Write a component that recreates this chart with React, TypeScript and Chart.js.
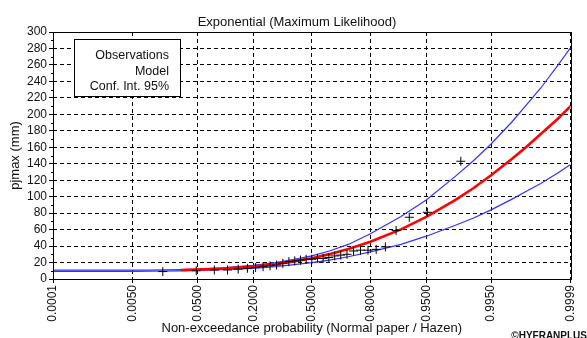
import React, { useEffect, useRef } from 'react';
import { Chart, registerables } from 'chart.js';

Chart.register(...registerables);

const chartTitle = 'Exponential (Maximum Likelihood)';
const xTitle = 'Non-exceedance probability (Normal paper / Hazen)';
const yTitle = 'pjmax (mm)';
const credit = '©HYFRANPLUS';
const legendLabels = ['Observations', 'Model', 'Conf. Int. 95%'];

const tickProbs = [0.0001, 0.005, 0.05, 0.2, 0.5, 0.8, 0.95, 0.995, 0.9999];
const tickLabels = ['0.0001', '0.0050', '0.0500', '0.2000', '0.5000', '0.8000', '0.9500', '0.9950', '0.9999'];
const yTicks = [0, 300, 20];

const curveProbs = [0.0001, 0.001, 0.005, 0.01, 0.03, 0.05, 0.1, 0.2, 0.3, 0.4, 0.5, 0.6, 0.7, 0.8, 0.9, 0.95, 0.98, 0.99, 0.995, 0.998, 0.999, 0.9995, 0.9998, 0.9999];
const upperValues = [10.8, 10.8, 10.8, 10.9, 11.5, 12, 13.5, 16.5, 20, 24, 28, 34, 42, 55, 76, 96, 124, 144, 164, 191, 212, 232, 260, 281];
const lowerValues = [9.2, 9.2, 9.2, 9.4, 9.8, 10.3, 11.3, 13, 15, 17.5, 20, 23, 27, 33, 42, 52, 65, 74, 84, 97, 107, 116, 129, 139];

const modelProbs = [0.03, 0.05, 0.1, 0.2, 0.3, 0.4, 0.5, 0.6, 0.7, 0.8, 0.9, 0.95, 0.98, 0.99, 0.995, 0.998, 0.999, 0.9995, 0.9998, 0.9999];
const modelValues = [11, 11.4, 12.6, 15.1, 18, 21.4, 25.3, 30.2, 36.4, 45.2, 60.3, 75.5, 95.5, 110.5, 126, 146, 161, 176, 195, 210];

// observations sorted ascending, plotted with Hazen positions (i - 0.5) / n
const obsValues = [9, 10, 11, 11, 12, 13, 14, 15, 16, 17, 19, 21, 22, 23, 24, 24, 25, 25, 26, 28, 29, 30, 34, 35, 35, 36, 39, 59, 75, 81, 143];

function probit(p: number): number {
  const a = [-39.69683028665376, 220.9460984245205, -275.9285104469687, 138.357751867269, -30.66479806614716, 2.506628277459239];
  const b = [-54.47609879822406, 161.5858368580409, -155.6989798598866, 66.80131188771972, -13.28068155288572];
  const c = [-0.007784894002430293, -0.3223964580411365, -2.400758277161838, -2.549732539343734, 4.374664141464968, 2.938163982698783];
  const d = [0.007784695709041462, 0.3224671290700398, 2.445134137142996, 3.754408661907416];
  const pl = 0.02425;
  let q: number, r: number;
  if (p < pl) {
    q = Math.sqrt(-2 * Math.log(p));
    return (((((c[0] * q + c[1]) * q + c[2]) * q + c[3]) * q + c[4]) * q + c[5]) / ((((d[0] * q + d[1]) * q + d[2]) * q + d[3]) * q + 1);
  }
  if (p <= 1 - pl) {
    q = p - 0.5;
    r = q * q;
    return (((((a[0] * r + a[1]) * r + a[2]) * r + a[3]) * r + a[4]) * r + a[5]) * q / (((((b[0] * r + b[1]) * r + b[2]) * r + b[3]) * r + b[4]) * r + 1);
  }
  q = Math.sqrt(-2 * Math.log(1 - p));
  return -(((((c[0] * q + c[1]) * q + c[2]) * q + c[3]) * q + c[4]) * q + c[5]) / ((((d[0] * q + d[1]) * q + d[2]) * q + d[3]) * q + 1);
}

const FONT = "'Liberation Sans', Arial, sans-serif";

const decorPlugin = {
  id: 'decor',
  afterDraw(chart: any) {
    const { ctx, chartArea } = chart;
    const { left, right, top, bottom } = chartArea;
    ctx.save();
    ctx.strokeStyle = '#000';
    ctx.lineWidth = 1;
    ctx.setLineDash([]);
    ctx.strokeRect(Math.round(left) + 0.5, Math.round(top) + 0.5, Math.round(right - left), Math.round(bottom - top));
    const ys = chart.scales.y;
    ctx.beginPath();
    for (let v = 10; v < 300; v += 20) {
      const py = Math.round(ys.getPixelForValue(v)) + 0.5;
      ctx.moveTo(Math.round(left) - 2, py);
      ctx.lineTo(Math.round(left), py);
    }
    ctx.stroke();
    ctx.fillStyle = '#111';
    ctx.font = `13px ${FONT}`;
    ctx.textBaseline = 'middle';
    ctx.textAlign = 'center';
    ctx.fillText(chartTitle, 297, 22);
    ctx.fillText(xTitle, (left + right) / 2, 328);
    ctx.save();
    ctx.translate(15, (top + bottom) / 2);
    ctx.rotate(-Math.PI / 2);
    ctx.fillText(yTitle, 0, 0);
    ctx.restore();
    ctx.font = `bold 10px ${FONT}`;
    ctx.textAlign = 'right';
    ctx.textBaseline = 'alphabetic';
    ctx.fillText(credit, 587, 339);
    ctx.fillStyle = '#fff';
    ctx.fillRect(74, 39, 107, 58);
    ctx.strokeStyle = '#000';
    ctx.strokeRect(74.5, 39.5, 106, 57);
    ctx.fillStyle = '#111';
    ctx.font = `12.5px ${FONT}`;
    ctx.textAlign = 'right';
    ctx.textBaseline = 'middle';
    legendLabels.forEach((t, i) => ctx.fillText(t, 169, 56 + i * 15.5));
    ctx.restore();
  },
};

export default function App() {
  const ref = useRef<HTMLCanvasElement | null>(null);
  useEffect(() => {
    if (!ref.current) return;
    const xy = (probs: number[], vals: number[]) => probs.map((p, i) => ({ x: probit(p), y: vals[i] }));
    const n = obsValues.length;
    const obsPts = obsValues.map((v, i) => ({ x: probit((i + 0.5) / n), y: v }));
    const chart = new Chart(ref.current, {
      type: 'scatter',
      data: {
        datasets: [
          { label: 'Observations', data: obsPts, showLine: false, pointStyle: 'cross', pointRadius: 4.5, borderColor: '#000', backgroundColor: '#000', borderWidth: 1, order: 0 },
          { label: 'Model', data: xy(modelProbs, modelValues), showLine: true, borderColor: '#ff0000', borderWidth: 2.6, pointRadius: 0, order: 1 },
          { label: 'Upper', data: xy(curveProbs, upperValues), showLine: true, borderColor: '#3333ff', borderWidth: 1.2, pointRadius: 0, order: 2 },
          { label: 'Lower', data: xy(curveProbs, lowerValues), showLine: true, borderColor: '#3333ff', borderWidth: 1.2, pointRadius: 0, order: 2 },
        ],
      },
      options: {
        responsive: false,
        animation: false,
        events: [],
        layout: { padding: { top: 32, right: 5, left: 0, bottom: 0 } },
        plugins: { legend: { display: false }, tooltip: { enabled: false }, title: { display: false } },
        scales: {
          x: {
            type: 'linear',
            min: probit(tickProbs[0]),
            max: probit(tickProbs[tickProbs.length - 1]),
            afterBuildTicks: (s: any) => { s.ticks = tickProbs.map((p) => ({ value: probit(p) })); },
            afterFit: (s: any) => { s.height = 59; },
            ticks: {
              autoSkip: false,
              minRotation: 90,
              maxRotation: 90,
              padding: 2,
              color: '#111',
              font: { family: FONT, size: 12 },
              callback: (_v: any, i: number) => tickLabels[i],
            },
            grid: { color: '#000', lineWidth: 1, tickLength: 4, tickColor: '#000', tickBorderDash: [] },
            border: { display: false, dash: [4, 3] },
          },
          y: {
            type: 'linear',
            min: yTicks[0],
            max: yTicks[1],
            afterFit: (s: any) => { s.width = 53; },
            ticks: { stepSize: yTicks[2], autoSkip: false, padding: 2, color: '#111', font: { family: FONT, size: 12 } },
            grid: { color: '#000', lineWidth: 1, tickLength: 4, tickColor: '#000', tickBorderDash: [] },
            border: { display: false, dash: [4, 3] },
          },
        },
      },
      plugins: [decorPlugin],
    });
    return () => chart.destroy();
  }, []);
  return (
    <div style={{ position: 'absolute', left: 0, top: 0, width: 587, height: 338, background: '#fff' }}>
      <canvas ref={ref} width={587} height={338} style={{ display: 'block' }} />
    </div>
  );
}
